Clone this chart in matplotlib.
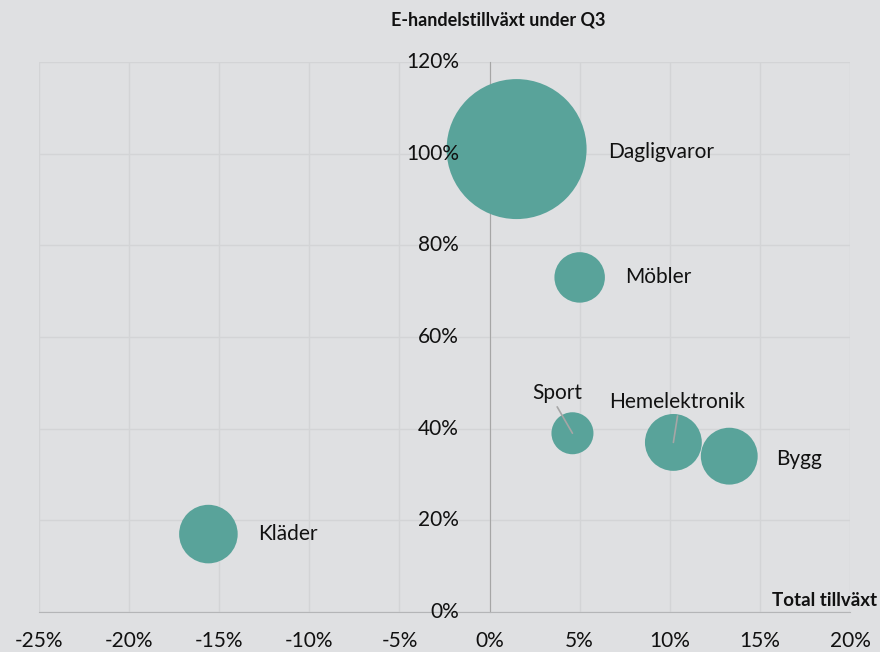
import matplotlib.pyplot as plt
from matplotlib.ticker import FuncFormatter, MultipleLocator

# Data: total growth (x), e-commerce growth (y), bubble size
kategorier = ["Dagligvaror", "Möbler", "Sport", "Hemelektronik", "Bygg", "Kläder"]
total_tillvaxt = [0.015, 0.050, 0.046, 0.102, 0.133, -0.156]
ehandel_tillvaxt = [1.01, 0.73, 0.39, 0.37, 0.34, 0.17]
storlek = [100, 13, 9, 16.5, 16.5, 17.5]

# label offsets (points) relative to bubble centre
etikett_offset = {
    "Dagligvaror": (66, -2, "left"),
    "Möbler": (33, 0, "left"),
    "Sport": (-11, 29, "center"),
    "Hemelektronik": (3, 29, "center"),
    "Bygg": (34, -2, "left"),
    "Kläder": (36, 0, "left"),
}
leder = {"Sport", "Hemelektronik"}

bg = "#dfe0e2"
bubbel_farg = "#59a39a"
plt.rcParams["font.family"] = ["Lato", "DejaVu Sans"]

pct = FuncFormatter(lambda v, p: f"{round(v * 100):d}%")
pos = [39 / 880, 40 / 652, 811 / 880, 550 / 652]

fig = plt.figure(figsize=(8.8, 6.52), dpi=100, facecolor=bg)
ax = fig.add_axes(pos)
ax.set_facecolor(bg)
ax.set_axisbelow(True)

ax.scatter(total_tillvaxt, ehandel_tillvaxt, s=[v * 101.6 for v in storlek],
           color=bubbel_farg, edgecolors="none", zorder=3)

for namn, x, y in zip(kategorier, total_tillvaxt, ehandel_tillvaxt):
    dx, dy, ha = etikett_offset[namn]
    ax.annotate(namn, (x, y), xytext=(dx, dy), textcoords="offset points",
                ha=ha, va="center", fontsize=15, color="#111111", zorder=5)
    if namn in leder:
        ax.annotate("", (x, y), xytext=(dx, dy - 10), textcoords="offset points",
                    arrowprops=dict(arrowstyle="-", color="#a6a6a6", lw=1.2,
                                    shrinkA=0, shrinkB=0), zorder=4)

ax.set_xlim(-0.25, 0.20)
ax.set_ylim(0, 1.20)
ax.xaxis.set_major_locator(MultipleLocator(0.05))
ax.yaxis.set_major_locator(MultipleLocator(0.20))
ax.xaxis.set_major_formatter(pct)

ax.grid(True, color="#d3d4d6", lw=1)
for side in ["top", "right"]:
    ax.spines[side].set_visible(False)
ax.spines["left"].set_position(("data", 0))
ax.spines["left"].set_color("#a6a6a6")
ax.spines["bottom"].set_color("#b4b5b7")

ax.tick_params(axis="both", length=0, labelsize=15, colors="#111111")
ax.tick_params(axis="y", labelleft=False)
ax.tick_params(axis="x", pad=14)

# y tick labels on an overlay so they sit above the bubbles
ax2 = fig.add_axes(pos, sharex=ax, sharey=ax)
ax2.patch.set_visible(False)
for side in ax2.spines:
    ax2.spines[side].set_visible(False)
ax2.spines["left"].set_position(("data", 0))
ax2.yaxis.set_major_formatter(pct)
ax2.tick_params(axis="y", length=0, labelsize=15, colors="#111111", pad=22)
ax2.tick_params(axis="x", bottom=False, labelbottom=False)
for lbl in ax2.get_yticklabels():
    lbl.set_verticalalignment("center")

fig.text(498 / 880, 1 - 20 / 652, "E-handelstillväxt under Q3", ha="center",
         va="center", fontsize=13, fontweight="bold", color="#111111")
fig.text(877 / 880, 1 - 600 / 652, "Total tillväxt", ha="right", va="center",
         fontsize=13.5, fontweight="bold", color="#111111")

fig.savefig("out.png", dpi=100, facecolor=bg)
